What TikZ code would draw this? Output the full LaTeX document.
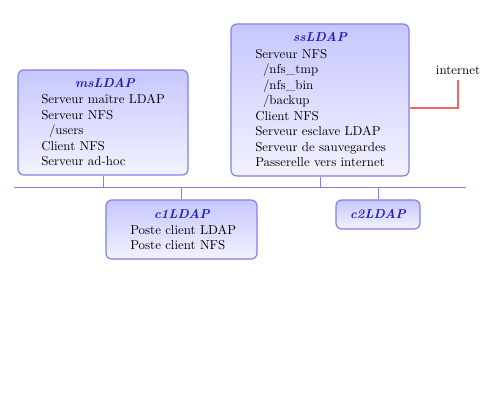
\documentclass[tikz,border=0pt]{standalone}
\usetikzlibrary{calc}
\definecolor{boxline}{RGB}{128,128,235}
\definecolor{titleblue}{RGB}{30,30,190}
\definecolor{netred}{RGB}{240,100,100}
\tikzset{
  box/.style={draw=boxline, line width=0.9pt, rounded corners=4.5pt,
    top color=blue!22, bottom color=blue!5, inner sep=0pt},
  boxtitle/.style={anchor=base, inner sep=0pt, text=titleblue, font=\bfseries\itshape},
  boxtext/.style={anchor=base west, inner sep=0pt},
  wire/.style={draw=boxline, line width=0.7pt},
  inet/.style={draw=netred, line width=0.8pt}
}
\newcommand{\ind}{\hspace*{6pt}}
\newcommand{\lines}[1]{\begin{tabular}[t]{@{}l@{}}#1\end{tabular}}
\begin{document}
\begin{tikzpicture}[x=0.775pt,y=-0.775pt]
\useasboundingbox (0,0) rectangle (501,401);
% boxes
\node[box, minimum width=131.75pt, minimum height=81.4pt] (ms) at (103,122.5) {};
\node[box, minimum width=137.95pt, minimum height=117.8pt] (ss) at (320,100) {};
\node[box, minimum width=117.0pt, minimum height=45.7pt] (c1) at (181.5,229.5) {};
\node[box, minimum width=65.1pt, minimum height=22.5pt] (c2) at (378,214.5) {};
% titles
\node[boxtitle] (mst) at (105,87.5) {msLDAP};
\node[boxtitle] (sst) at (320,41.5) {ssLDAP};
\node[boxtitle] (c1t) at (182,218) {c1LDAP};
\node[boxtitle] (c2t) at (378,218.5) {c2LDAP};
% texts
\node[boxtext] (msx) at (41,104) {\lines{Serveur maître LDAP\\Serveur NFS\\\ind/users\\Client NFS\\Serveur ad-hoc}};
\node[boxtext] (ssx) at (255,58.5) {\lines{Serveur NFS\\\ind/nfs\_tmp\\\ind/nfs\_bin\\\ind/backup\\Client NFS\\Serveur esclave LDAP\\Serveur de sauvegardes\\Passerelle vers internet}};
\node[boxtext] (c1x) at (130,234) {\lines{Poste client LDAP\\Poste client NFS}};
% internet
\node[anchor=base, inner sep=1pt] (net) at (458,75) {internet};
% bus
\coordinate (busL) at (14,187);
\coordinate (busR) at (466,187);
\draw[wire] (busL) -- (busR);
\draw[wire] (ms.south) -- (ms.south |- busL);
\draw[wire] (ss.south) -- (ss.south |- busL);
\draw[wire] (c1.north) -- (c1.north |- busL);
\draw[wire] (c2.north) -- (c2.north |- busL);
% internet link
\coordinate (ssR) at (409,108);
\draw[inet] (ss.east |- ssR) -- (net.south |- ssR) -- ($(net.south)+(0,3)$);
\end{tikzpicture}
\end{document}
